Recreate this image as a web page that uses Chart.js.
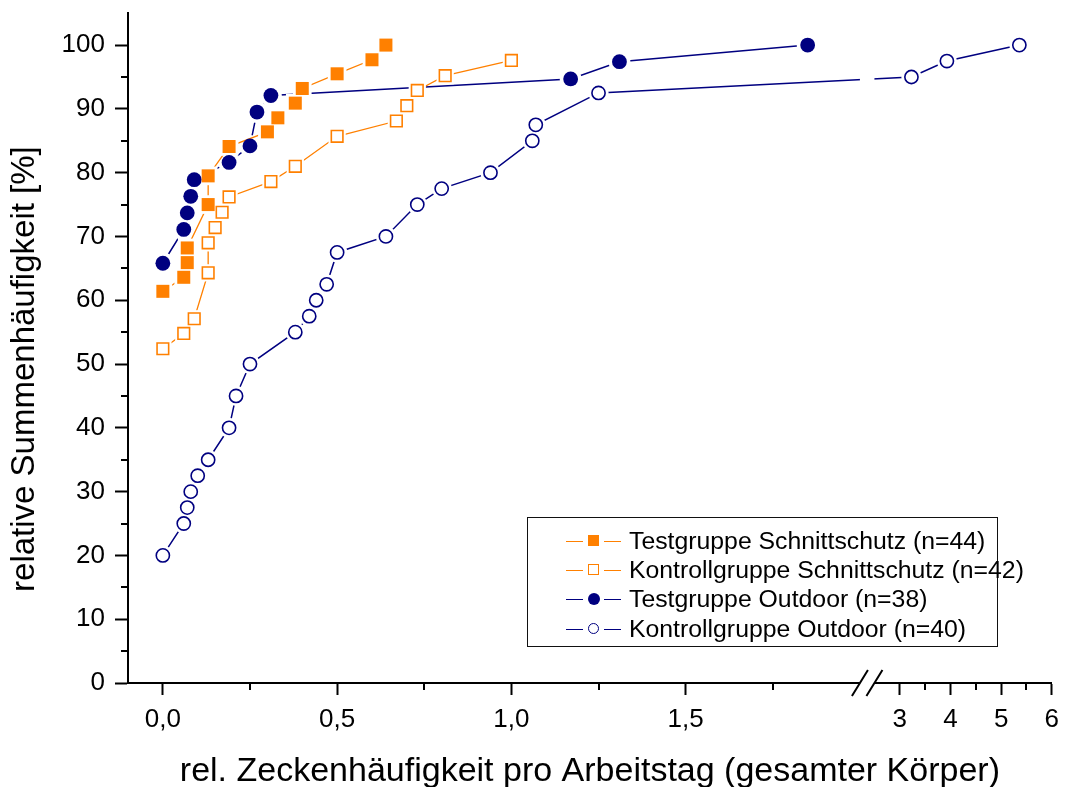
<!DOCTYPE html>
<html>
<head>
<meta charset="utf-8">
<script src="https://cdn.jsdelivr.net/npm/chart.js@4.4.1/dist/chart.umd.min.js"></script>
<style>
  body { margin: 0; background: #fff; font-family: 'Liberation Sans', Arial, sans-serif; }
  #wrap { position: relative; width: 1065px; height: 787px; }
  #legend {
    position: absolute; left: 527px; top: 517px; width: 471px; height: 130px;
    box-sizing: border-box; border: 1.5px solid #111; background: #fff; padding-top: 8px;
  }
  .row { height: 29.3px; display: flex; align-items: center; font-size: 24.8px; color: #000; white-space: nowrap; }
  .sym { position: relative; width: 56px; height: 20px; margin-left: 38px; margin-right: 7px; flex: none; }
  .sym .ln { position: absolute; top: 10px; height: 1px; width: 17px; }
  .sym .mk { position: absolute; box-sizing: border-box; }
</style>
</head>
<body>
<div id="wrap">
  <canvas id="cdf" width="1065" height="787"></canvas>
  <div id="legend"></div>
</div>
<script>
// Kumulative Häufigkeiten (x = Zecken pro Arbeitstag, y = relative Summenhäufigkeit in %)
const testSchnittX = [0, 0.06, 0.07, 0.07, 0.13, 0.13, 0.19, 0.30, 0.33, 0.38, 0.40, 0.50, 0.60, 0.64];
const testSchnittY = [61.4, 63.6, 65.9, 68.2, 75.0, 79.5, 84.1, 86.4, 88.6, 90.9, 93.2, 95.5, 97.7, 100];

const kontrollSchnittX = [0, 0.06, 0.09, 0.13, 0.13, 0.15, 0.17, 0.19, 0.31, 0.38, 0.50, 0.67, 0.70, 0.73, 0.81, 1.0];
const kontrollSchnittY = [52.4, 54.8, 57.1, 64.3, 69.0, 71.4, 73.8, 76.2, 78.6, 81.0, 85.7, 88.1, 90.5, 92.9, 95.2, 97.6];

const testOutdoorX = [0, 0.06, 0.07, 0.08, 0.09, 0.19, 0.25, 0.27, 0.31, 1.17, 1.31, 1.85];
const testOutdoorY = [65.8, 71.1, 73.7, 76.3, 78.9, 81.6, 84.2, 89.5, 92.1, 94.7, 97.4, 100];

const kontrollOutdoorX = [0, 0.06, 0.07, 0.08, 0.10, 0.13, 0.19, 0.21, 0.25, 0.38, 0.42, 0.44, 0.47, 0.50,
                          0.64, 0.73, 0.80, 0.94, 1.06, 1.07, 1.25, 3.23, 3.93, 5.36];
const kontrollOutdoorY = [20, 25, 27.5, 30, 32.5, 35, 40, 45, 50, 55, 57.5, 60, 62.5, 67.5,
                          70, 75, 77.5, 80, 85, 87.5, 92.5, 95, 97.5, 100];

// Achsen
const xMajor = [0, 0.5, 1, 1.5, 3, 4, 5, 6];
const xMinor = [0.25, 0.75, 1.25, 1.75, 3.5, 4.5, 5.5];
const yMajor = [0, 10, 20, 30, 40, 50, 60, 70, 80, 90, 100];
const yMinor = [5, 15, 25, 35, 45, 55, 65, 75, 85, 95];
const X_MIN = -0.1, X_MAX = 6, Y_MIN = 0, Y_MAX = 105;
const BREAK_LO = 2.0, BREAK_HI = 2.5;   // Achsenbruch
const SEG1_END = 0.7923, SEG2_START = 0.808; // Anteil der Achsenbreite
const Y_TITLE = 'relative Summenhäufigkeit [%]';

const ORANGE = '#ff8000';
const NAVY = '#000080';
const FONT = "'Liberation Sans', Arial, sans-serif";

const SERIES = [
  { label: 'Testgruppe Schnittschutz (n=44)', x: testSchnittX, y: testSchnittY, color: ORANGE, style: 'rect', filled: true, r: 9.2 },
  { label: 'Kontrollgruppe Schnittschutz (n=42)', x: kontrollSchnittX, y: kontrollSchnittY, color: ORANGE, style: 'rect', filled: false, r: 8.2 },
  { label: 'Testgruppe Outdoor (n=38)', x: testOutdoorX, y: testOutdoorY, color: NAVY, style: 'circle', filled: true, r: 7.4 },
  { label: 'Kontrollgruppe Outdoor (n=40)', x: kontrollOutdoorX, y: kontrollOutdoorY, color: NAVY, style: 'circle', filled: false, r: 6.6 },
];

// lineare Skala mit Achsenbruch zwischen BREAK_LO und BREAK_HI
class BrokenScale extends Chart.LinearScale {
  getPixelForValue(v) {
    const w = this.right - this.left;
    let f;
    if (v <= BREAK_LO) f = SEG1_END * (v - this.min) / (BREAK_LO - this.min);
    else if (v >= BREAK_HI) f = SEG2_START + (1 - SEG2_START) * (v - BREAK_HI) / (this.max - BREAK_HI);
    else f = SEG1_END + (SEG2_START - SEG1_END) * (v - BREAK_LO) / (BREAK_HI - BREAK_LO);
    return this.left + w * f;
  }
  getValueForPixel(p) {
    const f = (p - this.left) / (this.right - this.left);
    if (f <= SEG1_END) return this.min + f / SEG1_END * (BREAK_LO - this.min);
    if (f >= SEG2_START) return BREAK_HI + (f - SEG2_START) / (1 - SEG2_START) * (this.max - BREAK_HI);
    return BREAK_LO + (f - SEG1_END) / (SEG2_START - SEG1_END) * (BREAK_HI - BREAK_LO);
  }
}
BrokenScale.id = 'broken';
BrokenScale.defaults = Chart.LinearScale.defaults;
Chart.register(BrokenScale);

const pts = (xs, ys) => xs.map((x, i) => ({ x: x, y: ys[i] }));

const datasets = [];
SERIES.forEach(s => {
  // Linie mit weißem Hof um die Symbole (Lücke zwischen Linie und Symbol)
  datasets.push({
    data: pts(s.x, s.y),
    showLine: true,
    borderColor: s.color,
    borderWidth: s.color === NAVY ? 1.5 : 1.3,
    pointStyle: s.style,
    pointRadius: s.r + (s.style === 'rect' ? 4 : 3.5),
    pointBackgroundColor: '#fff',
    pointBorderWidth: 0,
    order: 1,
    clip: false,
  });
  datasets.push({
    data: pts(s.x, s.y),
    showLine: false,
    pointStyle: s.style,
    pointRadius: s.r,
    pointBackgroundColor: s.filled ? s.color : '#fff',
    pointBorderColor: s.color,
    pointBorderWidth: s.filled ? 0 : 1.6,
    order: 0,
    clip: false,
  });
});

const axisDecor = {
  id: 'axisDecor',
  afterDatasetsDraw(chart) {
    const { ctx, chartArea, scales: { x } } = chart;
    const a = x.getPixelForValue(BREAK_LO), b = x.getPixelForValue(BREAK_HI);
    ctx.save();
    ctx.fillStyle = '#fff';
    ctx.fillRect(a, chartArea.top, b - a, chartArea.bottom - chartArea.top - 2);
    ctx.restore();
  },
  afterDraw(chart) {
    const { ctx, chartArea, scales: { x, y } } = chart;
    ctx.save();
    ctx.strokeStyle = '#000';
    ctx.lineWidth = 2;
    ctx.beginPath();
    xMinor.forEach(v => {
      const px = Math.round(x.getPixelForValue(v));
      ctx.moveTo(px, chartArea.bottom);
      ctx.lineTo(px, chartArea.bottom + 7);
    });
    yMinor.forEach(v => {
      const py = Math.round(y.getPixelForValue(v));
      ctx.moveTo(chartArea.left - 7, py);
      ctx.lineTo(chartArea.left, py);
    });
    ctx.stroke();
    // Bruchzeichen
    const a = x.getPixelForValue(BREAK_LO), b = x.getPixelForValue(BREAK_HI);
    const yb = chartArea.bottom;
    ctx.fillStyle = '#fff';
    ctx.fillRect(a, yb - 3, b - a, 6);
    ctx.beginPath();
    [a, b].forEach(px => {
      ctx.moveTo(px - 8, yb + 13);
      ctx.lineTo(px + 8, yb - 13);
    });
    ctx.stroke();
    // y-Achsentitel (im Original etwas unterhalb der Mitte)
    ctx.translate(25, (chartArea.top + chartArea.bottom) / 2 + 21);
    ctx.rotate(-Math.PI / 2);
    ctx.fillStyle = '#000';
    ctx.font = '33px ' + FONT;
    ctx.textAlign = 'center';
    ctx.textBaseline = 'middle';
    ctx.fillText(Y_TITLE, 0, 0);
    ctx.restore();
  }
};

Chart.defaults.color = '#000';
Chart.defaults.font.family = FONT;

new Chart(document.getElementById('cdf'), {
  type: 'scatter',
  data: { datasets: datasets },
  options: {
    responsive: false,
    animation: false,
    layout: { padding: { left: 0, top: 9, right: 10, bottom: 0 } },
    plugins: { legend: { display: false }, tooltip: { enabled: false } },
    scales: {
      x: {
        type: 'broken',
        min: X_MIN,
        max: X_MAX,
        afterBuildTicks: s => { s.ticks = xMajor.map(v => ({ value: v })); },
        afterFit: s => { s.height = 104; s.paddingLeft = 0; s.paddingRight = 0; },
        ticks: {
          autoSkip: false, maxRotation: 0, padding: 9,
          font: { size: 26 },
          callback: v => v < BREAK_LO ? v.toFixed(1).replace('.', ',') : String(v),
        },
        grid: { drawOnChartArea: false, tickLength: 12, tickWidth: 2, tickColor: '#000' },
        border: { color: '#000', width: 2 },
        title: {
          display: true,
          text: 'rel. Zeckenhäufigkeit pro Arbeitstag (gesamter Körper)',
          font: { size: 34 },
          padding: { top: 0, bottom: -5 },
        },
      },
      y: {
        type: 'linear',
        min: Y_MIN,
        max: Y_MAX,
        afterBuildTicks: s => { s.ticks = yMajor.map(v => ({ value: v })); },
        afterFit: s => { s.width = 128; s.paddingTop = 0; s.paddingBottom = 0; },
        ticks: { padding: 10, font: { size: 26 } },
        grid: { drawOnChartArea: false, tickLength: 13, tickWidth: 2, tickColor: '#000' },
        border: { color: '#000', width: 2 },
        title: { display: false },
      },
    },
  },
  plugins: [axisDecor],
});

// Legende
const legend = document.getElementById('legend');
SERIES.forEach(s => {
  const row = document.createElement('div');
  row.className = 'row';
  const sym = document.createElement('span');
  sym.className = 'sym';
  const l1 = document.createElement('i'); l1.className = 'ln'; l1.style.left = '0px'; l1.style.background = s.color;
  const l2 = document.createElement('i'); l2.className = 'ln'; l2.style.left = '38px'; l2.style.background = s.color;
  const mk = document.createElement('i'); mk.className = 'mk';
  const size = s.style === 'circle' ? (s.filled ? 12 : 11) : 11;
  mk.style.width = size + 'px'; mk.style.height = size + 'px';
  mk.style.left = (27.5 - size / 2) + 'px'; mk.style.top = (10 - size / 2) + 'px';
  if (s.style === 'circle') mk.style.borderRadius = '50%';
  if (s.filled) mk.style.background = s.color;
  else { mk.style.background = '#fff'; mk.style.border = '1.5px solid ' + s.color; }
  sym.append(l1, mk, l2);
  const txt = document.createElement('span');
  txt.textContent = s.label;
  row.append(sym, txt);
  legend.appendChild(row);
});
</script>
</body>
</html>
